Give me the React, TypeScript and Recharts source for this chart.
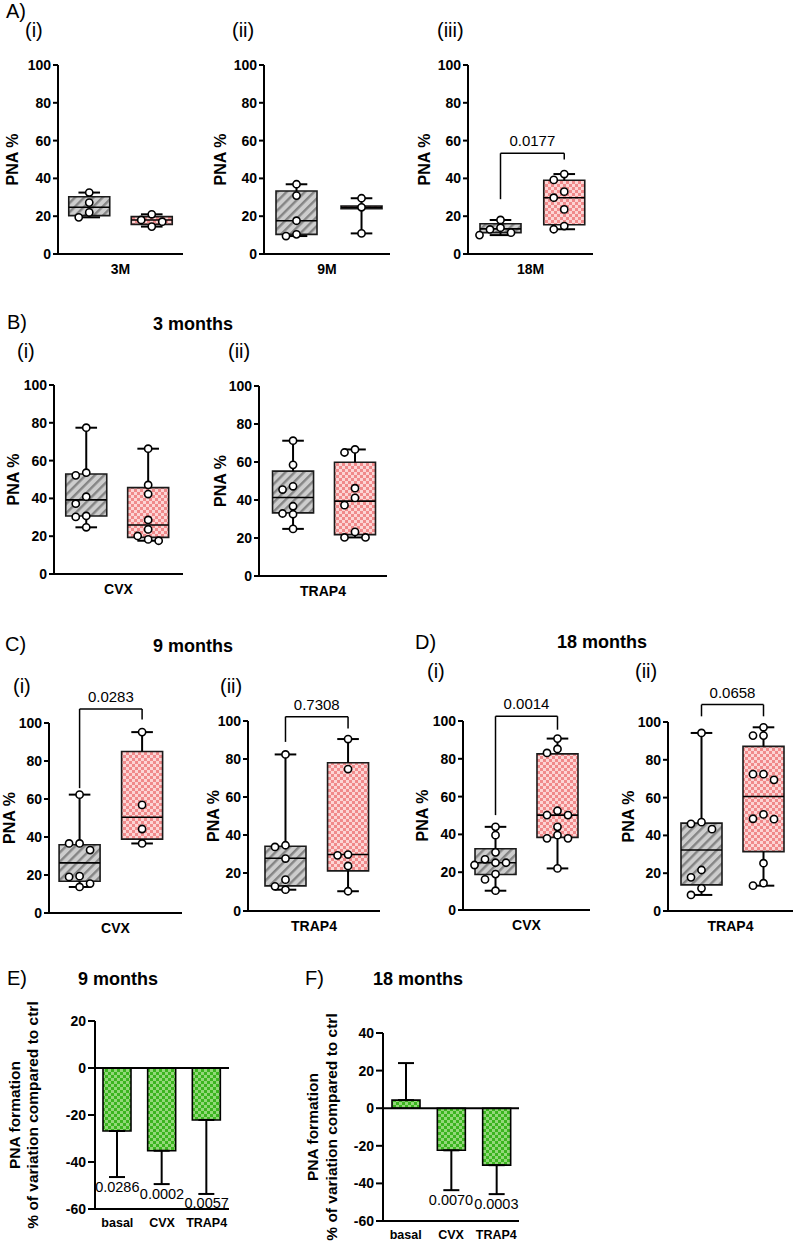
import React from 'react';
import {
  ComposedChart,
  XAxis,
  YAxis,
  Scatter,
  ReferenceArea,
  ReferenceLine,
  Bar,
  ErrorBar,
} from 'recharts';

// ---------------- data ----------------
// Box summaries are [min, q1, median, q3, max]; point lists are individual PNA % values.

// A(i) 3M
const A1_CTRL = [32.5, 27.2, 22.0, 19.4];
const A1_CTRL_BOX = [19.4, 20.3, 24.7, 30.3, 32.5];
const A1_TRT = [21.0, 18.0, 17.1, 14.5];
const A1_TRT_BOX = [14.5, 15.7, 18.0, 19.8, 21.0];
// A(ii) 9M
const A2_CTRL = [36.9, 30.9, 17.6, 10.4, 9.5];
const A2_CTRL_BOX = [9.5, 10.4, 17.6, 33.3, 36.9];
const A2_TRT = [29.5, 24.7, 10.9];
const A2_TRT_BOX = [10.9, 24.0, 24.7, 25.4, 29.5];
// A(iii) 18M
const A3_CTRL = [18.0, 13.9, 13.0, 11.3, 10.0];
const A3_CTRL_BOX = [10.0, 11.3, 13.3, 16.0, 18.0];
const A3_TRT = [42.3, 39.2, 33.0, 29.8, 23.6, 14.8, 13.1];
const A3_TRT_BOX = [13.1, 15.5, 29.8, 39.0, 42.3];

// B 3 months
const B1_CTRL = [77.4, 53.6, 52.2, 40.9, 37.2, 30.7, 30.2, 24.7];
const B1_CTRL_BOX = [24.7, 30.7, 39.2, 52.9, 77.4];
const B1_TRT = [66.3, 47.1, 42.3, 28.6, 23.6, 20.1, 18.3, 17.6];
const B1_TRT_BOX = [17.6, 19.4, 25.9, 45.7, 66.3];
const B2_CTRL = [71.2, 58.5, 47.2, 45.5, 36.7, 32.9, 32.5, 24.8];
const B2_CTRL_BOX = [24.8, 33.2, 41.3, 55.2, 71.2];
const B2_TRT = [66.6, 65.0, 46.2, 41.1, 37.3, 23.2, 20.3, 20.3];
const B2_TRT_BOX = [20.3, 21.8, 39.4, 59.9, 66.6];

// C 9 months
const C1_CTRL = [62.3, 36.6, 36.6, 33.1, 19.4, 19.0, 15.5, 13.7];
const C1_CTRL_BOX = [13.7, 16.7, 26.4, 35.9, 62.3];
const C1_TRT = [95.2, 56.9, 44.2, 36.6];
const C1_TRT_BOX = [36.6, 38.9, 50.4, 85.0, 95.2];
const C2_CTRL = [82.4, 34.6, 33.7, 27.6, 16.5, 13.0, 11.2];
const C2_CTRL_BOX = [11.2, 13.2, 27.8, 34.1, 82.4];
const C2_TRT = [90.5, 74.7, 29.7, 29.3, 23.7, 10.4];
const C2_TRT_BOX = [10.4, 21.1, 29.7, 78.0, 90.5];

// D 18 months
const D1_CTRL = [44.0, 39.6, 30.5, 26.8, 25.0, 25.0, 23.8, 19.0, 16.2, 10.2];
const D1_CTRL_BOX = [10.2, 18.8, 25.0, 32.4, 44.0];
const D1_TRT = [90.7, 85.2, 83.1, 52.5, 50.2, 50.2, 44.0, 39.6, 37.9, 37.9, 22.0];
const D1_TRT_BOX = [22.0, 38.4, 50.2, 82.6, 90.7];
const D2_CTRL = [94.2, 47.0, 46.1, 43.3, 21.7, 17.8, 12.0, 8.5];
const D2_CTRL_BOX = [8.5, 13.8, 32.3, 46.5, 94.2];
const D2_TRT = [97.2, 92.8, 92.8, 72.4, 72.4, 69.4, 51.1, 48.8, 48.6, 25.3, 14.7, 13.4];
const D2_TRT_BOX = [13.4, 31.4, 60.6, 87.1, 97.2];

// significance brackets: [left leg end, bar height, right leg end]
const C1_BRACKET = [65.7, 107.4, 101.8];
const C2_BRACKET = [89.0, 102.3, 96.0];
const D1_BRACKET = [50.2, 102.5, 95.4];
const D2_BRACKET = [103.0, 109.2, 103.0];
const A3_BRACKET = [29.0, 53.3, 50.0];

const PNA_TICKS = [0, 20, 40, 60, 80, 100];

// E / F: % variation vs ctrl (mean, SD) with p-values
const VAR_GROUPS = ['basal', 'CVX', 'TRAP4'];
const E_MEAN = [-26.8, -35.2, -22.1];
const E_SD = [19.6, 14.2, 31.5];
const E_P = ['0.0286', '0.0002', '0.0057'];
const E_TICKS = [-60, -40, -20, 0, 20];
const F_MEAN = [4.3, -22.4, -30.3];
const F_SD = [19.7, 21.2, 15.4];
const F_P = ['', '0.0070', '0.0003'];
const F_TICKS = [-60, -40, -20, 0, 20, 40];

// ---------------- styling ----------------
const SANS = '"Liberation Sans", Arial, Helvetica, sans-serif';
const BLACK = '#000';
const GREY_FILL = 'url(#hatchGrey)';
const PINK_FILL = 'url(#checkPink)';
const GREEN_FILL = 'url(#checkGreen)';

const tickStyle = { fill: BLACK, fontSize: 14, fontWeight: 700, fontFamily: SANS };
const axisLineStyle = { stroke: BLACK, strokeWidth: 2 };

type Group = { pts: number[]; box: number[]; fill: string };

// simple beeswarm: spread points that would overlap horizontally
function swarm(values: number[], center: number, pw: number, ph: number) {
  const stepPx = 10.5;
  const gapPx = 7.5;
  const out: { x: number; y: number }[] = [];
  const offs: number[] = [];
  const sorted = [...values].sort((a, b) => b - a);
  sorted.forEach((v) => {
    for (let k = 0; k < 15; k++) {
      const m = k === 0 ? 0 : k % 2 ? -Math.ceil(k / 2) : k / 2;
      const o = m * stepPx;
      const hit = out.some(
        (p, i) => Math.abs(((p.y - v) * ph) / 100) < gapPx && Math.abs(offs[i] - o) < stepPx * 0.9,
      );
      if (!hit) {
        out.push({ x: center + o / pw, y: v });
        offs.push(o);
        break;
      }
    }
  });
  return out;
}

const Dot = (p: any) => (
  <circle cx={p.cx} cy={p.cy} r={3.6} fill="#fff" stroke={BLACK} strokeWidth={1.6} />
);

function BoxPanel(props: {
  rect: number[];
  groups: Group[];
  centers: number[];
  category: string;
  labelDx: number;
  bracket?: number[];
  pText?: string;
}) {
  const { rect, groups, centers, category, labelDx, bracket, pText } = props;
  const [l, t, r, b] = rect;
  const pw = r - l;
  const ph = b - t;
  const padL = 58;
  const padT = 70;
  const padR = 14;
  const padB = 34;
  const half = 20.5 / pw;
  const cap = 10.8 / pw;
  const ln = { stroke: BLACK, strokeWidth: 2 };
  const parts: React.ReactNode[] = [];
  groups.forEach((g, i) => {
    const c = centers[i];
    const [mn, q1, md, q3, mx] = g.box;
    parts.push(<ReferenceLine key={`wu${i}`} segment={[{ x: c, y: mx }, { x: c, y: q3 }]} {...ln} />);
    parts.push(<ReferenceLine key={`wd${i}`} segment={[{ x: c, y: q1 }, { x: c, y: mn }]} {...ln} />);
    parts.push(<ReferenceLine key={`cu${i}`} segment={[{ x: c - cap, y: mx }, { x: c + cap, y: mx }]} {...ln} />);
    parts.push(<ReferenceLine key={`cd${i}`} segment={[{ x: c - cap, y: mn }, { x: c + cap, y: mn }]} {...ln} />);
    parts.push(
      <ReferenceArea
        key={`bx${i}`}
        x1={c - half}
        x2={c + half}
        y1={q1}
        y2={q3}
        fill={g.fill}
        fillOpacity={1}
        stroke="#1a1a1a"
        strokeWidth={1.6}
      />,
    );
    parts.push(
      <ReferenceLine key={`md${i}`} segment={[{ x: c - half, y: md }, { x: c + half, y: md }]} stroke={BLACK} strokeWidth={1.6} />,
    );
  });
  if (bracket && pText) {
    const [lo, top, ro] = bracket;
    const bl = { stroke: BLACK, strokeWidth: 1.5, ifOverflow: 'visible' as const };
    parts.push(<ReferenceLine key="bl" segment={[{ x: centers[0], y: lo }, { x: centers[0], y: top }]} {...bl} />);
    parts.push(<ReferenceLine key="br" segment={[{ x: centers[1], y: ro }, { x: centers[1], y: top }]} {...bl} />);
    parts.push(
      <ReferenceLine
        key="bt"
        segment={[{ x: centers[0], y: top }, { x: centers[1], y: top }]}
        {...bl}
        label={{ value: pText, position: 'top', offset: 7, fill: BLACK, fontSize: 15, fontFamily: SANS }}
      />,
    );
  }
  return (
    <div style={{ position: 'absolute', left: l - padL, top: t - padT }}>
      <ComposedChart
        width={pw + padL + padR}
        height={ph + padT + padB}
        margin={{ top: padT, right: padR, bottom: 0, left: 0 }}
      >
        <XAxis
          type="number"
          dataKey="x"
          domain={[0, 1]}
          ticks={[0.5]}
          tickFormatter={() => category}
          tickLine={false}
          axisLine={axisLineStyle}
          height={padB}
          tickMargin={4}
          tick={{ ...tickStyle, fontSize: 14 }}
          allowDataOverflow
        />
        <YAxis
          type="number"
          dataKey="y"
          domain={[0, 100]}
          ticks={PNA_TICKS}
          width={padL}
          tickSize={5}
          tickMargin={2}
          tickLine={axisLineStyle}
          axisLine={axisLineStyle}
          tick={tickStyle}
          allowDataOverflow
          label={{
            value: 'PNA %',
            angle: -90,
            position: 'insideLeft',
            offset: padL + labelDx,
            style: { textAnchor: 'middle', fontWeight: 700, fontSize: 16, fill: BLACK, fontFamily: SANS },
          }}
        />
        {parts}
        {groups.map((g, i) => (
          <Scatter
            key={`pts${i}`}
            data={swarm(g.pts, centers[i], pw, ph)}
            shape={Dot}
            isAnimationActive={false}
          />
        ))}
      </ComposedChart>
    </div>
  );
}

const PLabel = (p: any) =>
  p.payload && p.payload.p ? (
    <text x={p.cx} y={p.cy + 14.5} textAnchor="middle" fill={BLACK} fontSize={14.5} fontFamily={SANS}>
      {p.payload.p}
    </text>
  ) : (
    <g />
  );

function VarPanel(props: {
  rect: number[];
  means: number[];
  sds: number[];
  pvals: string[];
  ticks: number[];
}) {
  const { rect, means, sds, pvals, ticks } = props;
  const [l, t, r, b] = rect;
  const padL = 50;
  const padT = 12;
  const padR = 6;
  const padB = 30;
  const rows = VAR_GROUPS.map((name, i) => ({
    name,
    value: means[i],
    err: means[i] < 0 ? [sds[i], 0] : [0, sds[i]],
    tip: means[i] < 0 ? means[i] - sds[i] : means[i] + sds[i],
    p: pvals[i],
  }));
  return (
    <div style={{ position: 'absolute', left: l - padL, top: t - padT }}>
      <ComposedChart
        data={rows}
        width={r - l + padL + padR}
        height={b - t + padT + padB}
        margin={{ top: padT, right: padR, bottom: 0, left: 0 }}
        barSize={28}
      >
        <XAxis
          dataKey="name"
          tickLine={false}
          axisLine={axisLineStyle}
          height={padB}
          tickMargin={3}
          tick={{ ...tickStyle, fontSize: 12.5 }}
          interval={0}
        />
        <YAxis
          type="number"
          domain={[ticks[0], ticks[ticks.length - 1]]}
          ticks={ticks}
          width={padL}
          tickSize={7}
          tickMargin={2}
          tickLine={axisLineStyle}
          axisLine={axisLineStyle}
          tick={tickStyle}
        />
        <ReferenceLine y={0} stroke={BLACK} strokeWidth={2} />
        <Bar dataKey="value" fill={GREEN_FILL} stroke={BLACK} strokeWidth={1.6} isAnimationActive={false}>
          <ErrorBar dataKey="err" width={8} stroke={BLACK} strokeWidth={2} direction="y" />
        </Bar>
        <Scatter dataKey="tip" shape={PLabel} isAnimationActive={false} />
      </ComposedChart>
    </div>
  );
}

const grey = (pts: number[], box: number[]): Group => ({ pts, box, fill: GREY_FILL });
const pink = (pts: number[], box: number[]): Group => ({ pts, box, fill: PINK_FILL });

const T = (p: { x: number; y: number; s?: number; w?: number; a?: 'start' | 'middle' | 'end'; children: string }) => (
  <text
    x={p.x}
    y={p.y}
    fontSize={p.s ?? 20}
    fontWeight={p.w ?? 400}
    textAnchor={p.a ?? 'start'}
    fontFamily={SANS}
    fill={BLACK}
  >
    {p.children}
  </text>
);

const YLabel2 = (p: { x1: number; x2: number; cy: number }) => (
  <g fontFamily={SANS} fontWeight={700} fontSize={15.5} fill={BLACK} textAnchor="middle">
    <text transform={`translate(${p.x1},${p.cy}) rotate(-90)`}>PNA formation</text>
    <text transform={`translate(${p.x2},${p.cy}) rotate(-90)`}>% of variation compared to ctrl</text>
  </g>
);

export default function App() {
  return (
    <div
      style={{
        position: 'absolute',
        left: 0,
        top: 0,
        width: 797,
        height: 1241,
        background: '#fff',
        overflow: 'hidden',
      }}
    >
      <svg width={0} height={0} style={{ position: 'absolute' }}>
        <defs>
          <pattern id="hatchGrey" patternUnits="userSpaceOnUse" width={6.5} height={6.5} patternTransform="rotate(45)">
            <rect width={6.5} height={6.5} fill="#cdcdcd" />
            <rect width={2.4} height={6.5} fill="#858585" />
          </pattern>
          <pattern id="checkPink" patternUnits="userSpaceOnUse" width={6} height={6}>
            <rect width={6} height={6} fill="#fcd5d5" />
            <rect width={3} height={3} fill="#f08a8b" />
            <rect x={3} y={3} width={3} height={3} fill="#f08a8b" />
          </pattern>
          <pattern id="checkGreen" patternUnits="userSpaceOnUse" width={6} height={6}>
            <rect width={6} height={6} fill="#93d879" />
            <rect width={3} height={3} fill="#3bb51f" />
            <rect x={3} y={3} width={3} height={3} fill="#3bb51f" />
          </pattern>
        </defs>
      </svg>

      {/* A */}
      <BoxPanel rect={[58, 65, 183, 254]} centers={[0.25, 0.75]} category="3M" labelDx={-45.5}
        groups={[grey(A1_CTRL, A1_CTRL_BOX), pink(A1_TRT, A1_TRT_BOX)]} />
      <BoxPanel rect={[264, 65, 390, 254]} centers={[0.258, 0.774]} category="9M" labelDx={-44}
        groups={[grey(A2_CTRL, A2_CTRL_BOX), pink(A2_TRT, A2_TRT_BOX)]} />
      <BoxPanel rect={[468, 65, 593, 254]} centers={[0.26, 0.77]} category="18M" labelDx={-44}
        groups={[grey(A3_CTRL, A3_CTRL_BOX), pink(A3_TRT, A3_TRT_BOX)]} bracket={A3_BRACKET} pText="0.0177" />

      {/* B */}
      <BoxPanel rect={[54, 385, 183, 574]} centers={[0.25, 0.73]} category="CVX" labelDx={-41}
        groups={[grey(B1_CTRL, B1_CTRL_BOX), pink(B1_TRT, B1_TRT_BOX)]} />
      <BoxPanel rect={[259, 386, 387, 576]} centers={[0.266, 0.75]} category="TRAP4" labelDx={-39}
        groups={[grey(B2_CTRL, B2_CTRL_BOX), pink(B2_TRT, B2_TRT_BOX)]} />

      {/* C */}
      <BoxPanel rect={[49, 723, 182, 913]} centers={[0.23, 0.7]} category="CVX" labelDx={-40}
        groups={[grey(C1_CTRL, C1_CTRL_BOX), pink(C1_TRT, C1_TRT_BOX)]} bracket={C1_BRACKET} pText="0.0283" />
      <BoxPanel rect={[248, 721, 380, 911]} centers={[0.284, 0.758]} category="TRAP4" labelDx={-34.5}
        groups={[grey(C2_CTRL, C2_CTRL_BOX), pink(C2_TRT, C2_TRT_BOX)]} bracket={C2_BRACKET} pText="0.7308" />

      {/* D */}
      <BoxPanel rect={[463, 721, 590, 910]} centers={[0.256, 0.744]} category="CVX" labelDx={-40.5}
        groups={[grey(D1_CTRL, D1_CTRL_BOX), pink(D1_TRT, D1_TRT_BOX)]} bracket={D1_BRACKET} pText="0.0014" />
      <BoxPanel rect={[668, 722, 793, 911]} centers={[0.268, 0.764]} category="TRAP4" labelDx={-39.5}
        groups={[grey(D2_CTRL, D2_CTRL_BOX), pink(D2_TRT, D2_TRT_BOX)]} bracket={D2_BRACKET} pText="0.0658" />

      {/* E / F */}
      <VarPanel rect={[95, 1021, 229, 1209]} means={E_MEAN} sds={E_SD} pvals={E_P} ticks={E_TICKS} />
      <VarPanel rect={[383, 1033, 519, 1221]} means={F_MEAN} sds={F_SD} pvals={F_P} ticks={F_TICKS} />

      {/* panel letters, sub-panel tags and titles */}
      <svg width={797} height={1241} style={{ position: 'absolute', left: 0, top: 0, pointerEvents: 'none' }}>
        <T x={6} y={18}>A)</T>
        <T x={25} y={37}>(i)</T>
        <T x={232} y={37}>(ii)</T>
        <T x={437} y={37}>(iii)</T>

        <T x={7} y={329}>B)</T>
        <T x={193} y={330} s={18} w={700} a="middle">3 months</T>
        <T x={17} y={358}>(i)</T>
        <T x={228} y={358}>(ii)</T>

        <T x={5} y={651}>C)</T>
        <T x={193} y={652} s={18} w={700} a="middle">9 months</T>
        <T x={13} y={693}>(i)</T>
        <T x={220} y={693}>(ii)</T>

        <T x={415} y={649}>D)</T>
        <T x={602} y={648} s={18} w={700} a="middle">18 months</T>
        <T x={427} y={678}>(i)</T>
        <T x={635} y={678}>(ii)</T>

        <T x={7} y={985}>E)</T>
        <T x={78} y={985} s={18} w={700}>9 months</T>
        <T x={305} y={985}>F)</T>
        <T x={373} y={985} s={18} w={700}>18 months</T>

        <YLabel2 x1={20} x2={38} cy={1115} />
        <YLabel2 x1={318} x2={337} cy={1127} />
      </svg>
    </div>
  );
}
